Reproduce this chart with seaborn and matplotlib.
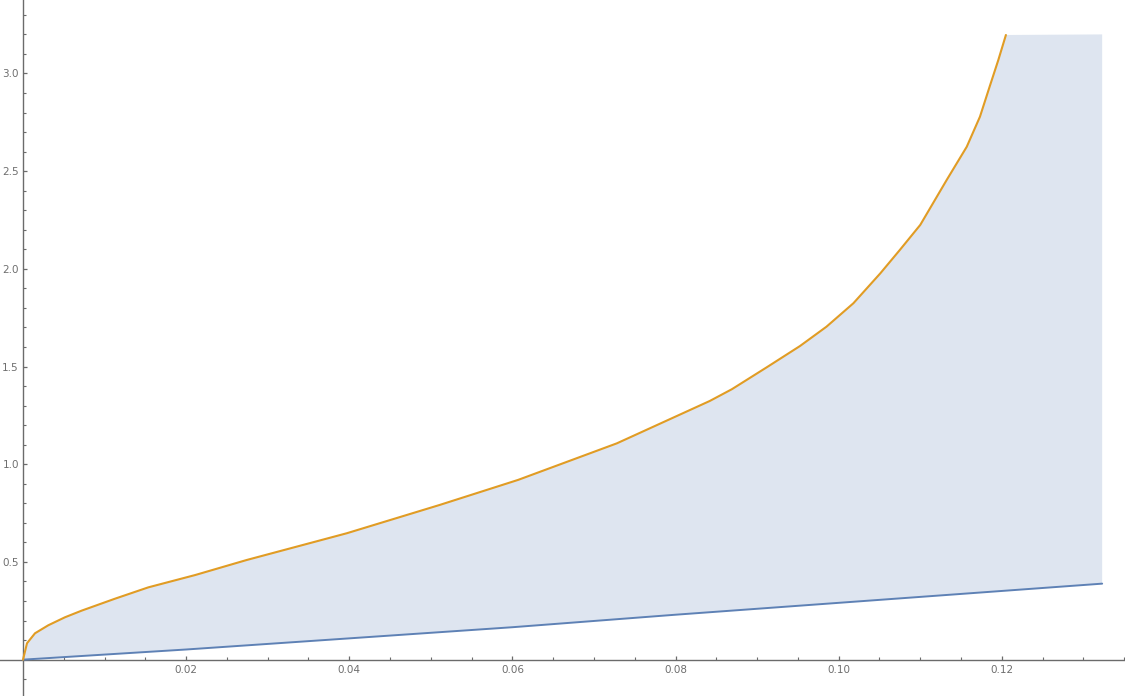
import numpy as np
import pandas as pd
import matplotlib
matplotlib.use("Agg")
import matplotlib.pyplot as plt
import seaborn as sns
from matplotlib.ticker import FixedLocator, FixedFormatter

# ---- data ----
orange_x = [0.0, 0.00049, 0.00147, 0.0031, 0.00515, 0.0072, 0.01128, 0.01536, 0.0211,
            0.02742, 0.0397, 0.0511, 0.0607, 0.0728, 0.0842, 0.0869, 0.09117, 0.09525,
            0.0985, 0.1018, 0.1051, 0.1075, 0.1100, 0.11324, 0.1157, 0.11732, 0.1185,
            0.11957, 0.1205]
orange_y = [0.0, 0.084, 0.135, 0.176, 0.217, 0.251, 0.312, 0.370, 0.433,
            0.510, 0.647, 0.792, 0.920, 1.107, 1.324, 1.384, 1.496, 1.605,
            1.704, 1.824, 1.977, 2.097, 2.225, 2.455, 2.625, 2.779, 2.932,
            3.069, 3.197]
blue_x = [0.0, 0.02, 0.06, 0.08, 0.1323]
blue_y = [0.0, 0.052, 0.166, 0.230, 0.389]
y_cap = 3.2

x_major = [0.02, 0.04, 0.06, 0.08, 0.10, 0.12]
x_labels = ["0.02", "0.04", "0.06", "0.08", "0.10", "0.12"]
y_major = [0.5, 1.0, 1.5, 2.0, 2.5, 3.0]
y_labels = ["0.5", "1.0", "1.5", "2.0", "2.5", "3.0"]

BLUE = "#5E81B5"
ORANGE = "#E19C24"
AXC = "#6b6b6b"
TXT = "#6e6e6e"

sns.set_theme(style="white")
plt.rcParams["font.family"] = ["DejaVu Sans"]

fig = plt.figure(figsize=(11.25, 6.96), dpi=100)
ax = fig.add_axes([0, 0, 1, 1])

# fill region between blue line and orange curve (capped at plot top)
poly_x = list(orange_x) + [blue_x[-1]] + list(blue_x[::-1])
poly_y = list(orange_y) + [y_cap] + list(blue_y[::-1])
ax.fill(poly_x, poly_y, color=BLUE, alpha=0.2, lw=0, zorder=1)

df_o = pd.DataFrame({"x": orange_x, "y": orange_y})
df_b = pd.DataFrame({"x": blue_x, "y": blue_y})
sns.lineplot(data=df_b, x="x", y="y", sort=False, color=BLUE, lw=1.4, ax=ax, zorder=3)
sns.lineplot(data=df_o, x="x", y="y", sort=False, color=ORANGE, lw=1.5, ax=ax, zorder=4)

ax.set_xlim(-0.00282, 0.1351)
ax.set_ylim(-0.186, 3.376)
ax.set_xlabel("")
ax.set_ylabel("")

for s in ["top", "right"]:
    ax.spines[s].set_visible(False)
for s in ["left", "bottom"]:
    ax.spines[s].set_position(("data", 0))
    ax.spines[s].set_color(AXC)
    ax.spines[s].set_linewidth(1.0)

x_minor = [round(0.005 * i, 4) for i in range(1, 28)]
x_minor = [v for v in x_minor if all(abs(v - m) > 1e-9 for m in x_major)]
y_minor = [round(0.1 * i, 2) for i in range(-1, 34)]
y_minor = [v for v in y_minor if v != 0 and all(abs(v - m) > 1e-9 for m in y_major)]

ax.xaxis.set_major_locator(FixedLocator(x_major))
ax.xaxis.set_major_formatter(FixedFormatter(x_labels))
ax.xaxis.set_minor_locator(FixedLocator(x_minor))
ax.yaxis.set_major_locator(FixedLocator(y_major))
ax.yaxis.set_major_formatter(FixedFormatter(y_labels))
ax.yaxis.set_minor_locator(FixedLocator(y_minor))

ax.tick_params(axis="both", which="major", direction="in", length=3.2, width=0.9,
               color=AXC, labelcolor=TXT, labelsize=7.5, bottom=True, left=True)
ax.tick_params(axis="both", which="minor", direction="in", length=2.0, width=0.8,
               color=AXC, bottom=True, left=True)
ax.tick_params(axis="x", which="major", pad=4)
ax.tick_params(axis="y", which="major", pad=3)

fig.savefig("out.png", dpi=100)
